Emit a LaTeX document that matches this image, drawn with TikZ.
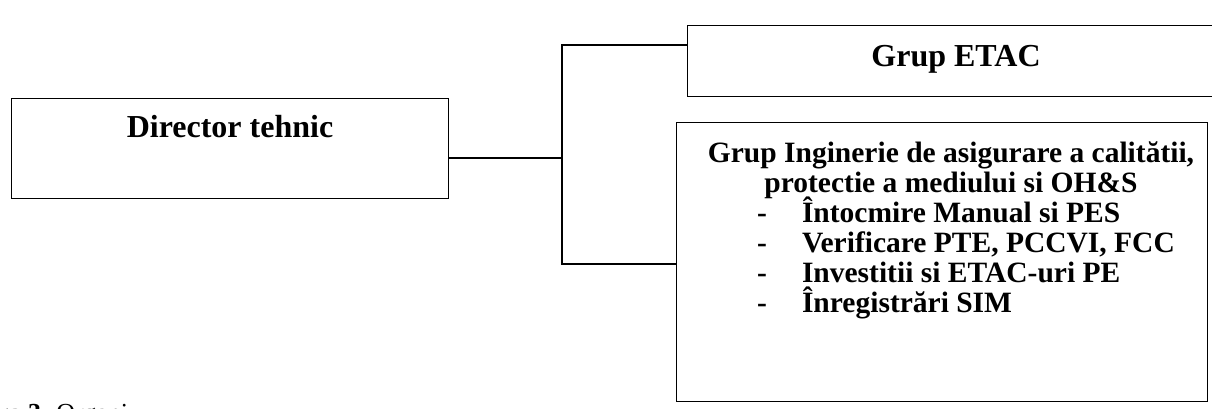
\documentclass[tikz,border=0pt]{standalone}
\usepackage{fontspec}
\setmainfont{Liberation Serif}
\usetikzlibrary{positioning}

\begin{document}
\begin{tikzpicture}[
  x=1pt,
  y=-1pt,
  org box/.style={
    draw,
    line width=1.2pt,
    inner sep=0pt,
    anchor=north west
  },
  org head/.style={
    inner sep=0pt,
    anchor=base,
    font=\bfseries\fontsize{32}{36}\selectfont
  },
  org text/.style={
    inner sep=0pt,
    anchor=base,
    font=\bfseries\fontsize{29.5}{30}\selectfont
  },
  org line/.style={
    draw,
    line width=1.2pt
  },
]
\useasboundingbox (0,0) rectangle (1212,409);
% boxes
\node[org box, minimum width=437pt, minimum height=100pt] (dir) at (11,98) {};
\node[org head] (dirtext) at (230,137) {Director tehnic};
\node[org box, minimum width=545pt, minimum height=71pt] (etac) at (687,25) {};
\node[org head] (etactext) at (956,67) {Grup ETAC};
\node[org box, minimum width=531pt, minimum height=279pt] (ing) at (676,122) {};
% base of a multi-line node = baseline of its last line
\node[org text, align=center] (ingtitle) at (951,192)
  {Grup Inginerie de asigurare a calitătii,\\protectie a mediului si OH\&S};
\node[org text, align=left, anchor=base west] (inglist) at (757,312)
  {-\hspace{35pt}Întocmire Manual si PES\\
   -\hspace{35pt}Verificare PTE, PCCVI, FCC\\
   -\hspace{35pt}Investitii si ETAC-uri PE\\
   -\hspace{35pt}Înregistrări SIM};
% caption, cut by the page
\node[font=\fontsize{26}{30}\selectfont, anchor=base west, inner sep=0pt] (caption) at (-3,421)
  {\textbf{ra 3.} Organi};
% connectors
\coordinate (bus) at (562,158);
\coordinate (bus top) at (562,45);
\coordinate (bus bot) at (562,264);
\path[org line] (dir.east |- bus) -- (bus);
\path[org line] (etac.west |- bus top) -- (bus top) -- (bus bot) -- (ing.west |- bus bot);
\end{tikzpicture}
\end{document}
